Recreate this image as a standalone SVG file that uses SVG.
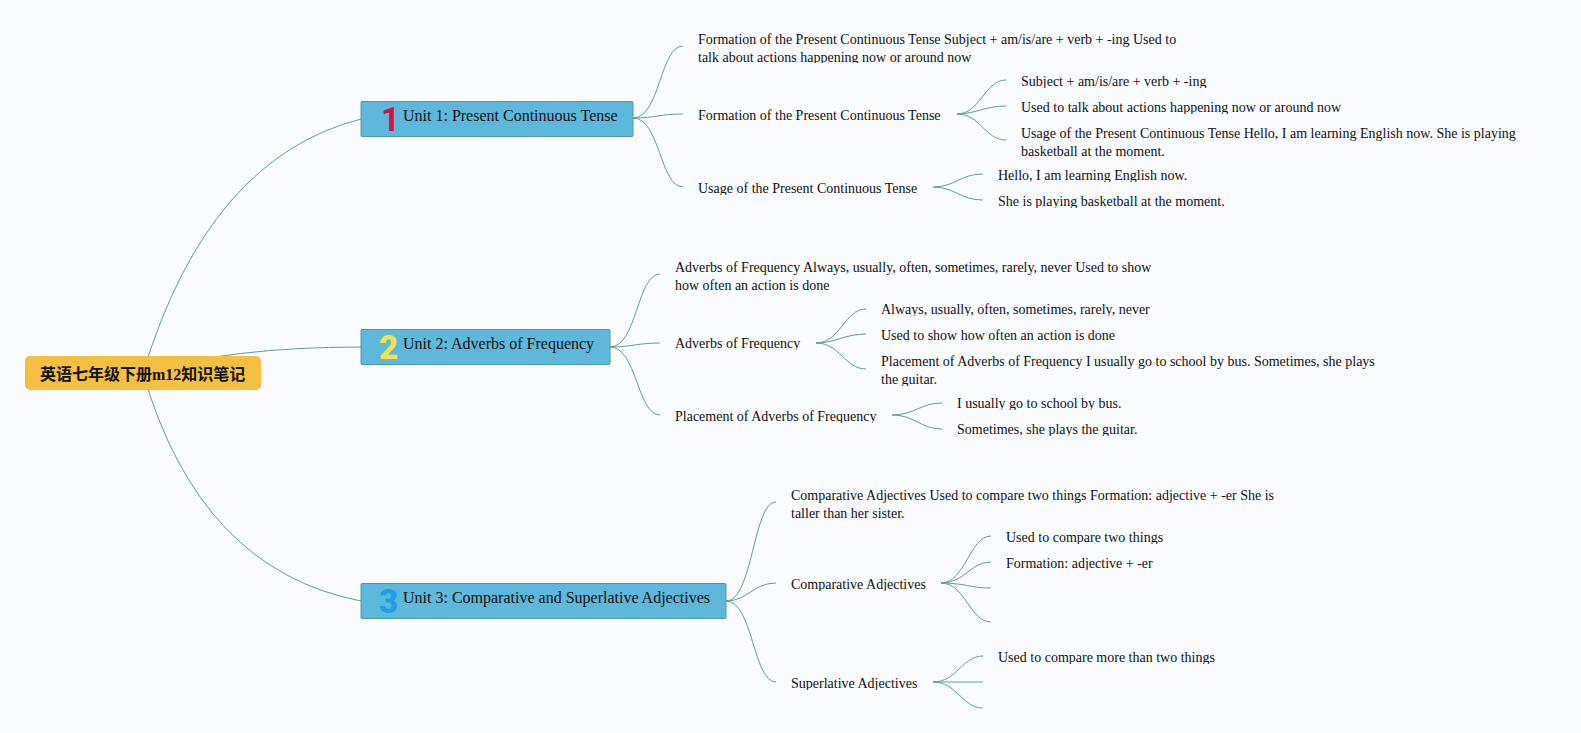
<svg xmlns="http://www.w3.org/2000/svg" width="1581" height="733" viewBox="0 0 1581 733">
<style>
.l{fill:none;stroke:#5f9e92;stroke-width:1}
.t{font:14px "Liberation Serif",serif;fill:#111}
.u{font:16px "Liberation Serif",serif;fill:#111}
.b{fill:#5db8dc;stroke:#4f9a9c;stroke-width:1}
.n{font:900 33px "Roboto","Liberation Sans",sans-serif}
</style>
<defs>
<clipPath id="c1"><rect x="690" y="28" width="500" height="35"/></clipPath>
<clipPath id="c3"><rect x="1015" y="70" width="300" height="18"/></clipPath>
<clipPath id="c4"><rect x="1015" y="96" width="400" height="18"/></clipPath>
<clipPath id="c6"><rect x="690" y="176" width="240" height="19"/></clipPath>
<clipPath id="c7"><rect x="990" y="164" width="300" height="18"/></clipPath>
<clipPath id="c8"><rect x="990" y="190" width="300" height="18"/></clipPath>
<clipPath id="c10"><rect x="670" y="332" width="140" height="18"/></clipPath>
<clipPath id="c11"><rect x="875" y="298" width="300" height="18"/></clipPath>
<clipPath id="c13"><rect x="875" y="350" width="520" height="36"/></clipPath>
<clipPath id="c14"><rect x="670" y="405" width="220" height="18"/></clipPath>
<clipPath id="c15"><rect x="950" y="392" width="300" height="18"/></clipPath>
<clipPath id="c16"><rect x="950" y="418" width="300" height="18"/></clipPath>
<clipPath id="c18"><rect x="785" y="573" width="150" height="18"/></clipPath>
<clipPath id="c19"><rect x="1000" y="526" width="300" height="18"/></clipPath>
<clipPath id="c20"><rect x="1000" y="552" width="300" height="18"/></clipPath>
<clipPath id="c21"><rect x="785" y="672" width="150" height="18"/></clipPath>
<clipPath id="c22"><rect x="990" y="646" width="300" height="18"/></clipPath>
</defs>
<rect width="1581" height="733" fill="#f9fbff"/>
<g id="connectors">
<path class="l" d="M143 373Q208 158 361 119"/>
<path class="l" d="M143 373Q229 347 361 347"/>
<path class="l" d="M143 373Q200 570 361 601"/>
<path class="l" d="M633 118C660 118 660 46 683 46M633 118C655 118 660 114 683 114M633 118C660 118 660 187 683 187"/>
<path class="l" d="M957 114C980 114 985 80 1006 80M957 114C975 114 985 106 1006 106M957 114C980 114 985 140 1006 140"/>
<path class="l" d="M933 187C955 187 960 174 983 174M933 187C955 187 960 200 983 200"/>
<path class="l" d="M610 347C637 347 637 274 660 274M610 347C632 347 637 343 660 343M610 347C637 347 637 415 660 415"/>
<path class="l" d="M816 343C840 343 845 309 866 309M816 343C835 343 845 334 866 334M816 343C840 343 845 369 866 369"/>
<path class="l" d="M892 415C915 415 920 403 942 403M892 415C915 415 920 429 942 429"/>
<path class="l" d="M726 601C753 601 753 502 776 502M726 601C748 601 753 583 776 583M726 601C753 601 753 682 776 682"/>
<path class="l" d="M941 583C965 583 970 536 991 536M941 583C965 583 970 562 991 562M941 583C965 583 970 588 991 588M941 583C965 583 970 622 991 622"/>
<path class="l" d="M933 682C957 682 962 656 983 656M933 682H983M933 682C957 682 962 708 983 708"/>
</g>
<g id="root"><rect x="25" y="356" width="236" height="34" rx="5" fill="#f5bf3f"/><text x="40" y="380" font-family="Liberation Serif,Noto Sans CJK SC,serif" font-size="16" font-weight="700" fill="#111">英语七年级下册m12知识笔记</text></g>
<g id="unit1"><rect class="b" x="361" y="101.500" width="272" height="35" rx="1"/><text class="n" x="381" y="131" fill="#d4143c" style="font-weight:700">1</text><text class="u" x="403" y="121">Unit 1: Present Continuous Tense</text></g>
<g id="unit2"><rect class="b" x="361" y="329.500" width="249" height="35" rx="1"/><text class="n" x="379" y="359" fill="#f2e050">2</text><text class="u" x="403" y="349">Unit 2: Adverbs of Frequency</text></g>
<g id="unit3"><rect class="b" x="361" y="583.500" width="365" height="35" rx="1"/><text class="n" x="379" y="613" fill="#1f9fe6">3</text><text class="u" x="403" y="603">Unit 3: Comparative and Superlative Adjectives</text></g>
<g id="n1" clip-path="url(#c1)"><text class="t" x="698" y="44">Formation of the Present Continuous Tense Subject + am/is/are + verb + -ing Used to</text><text class="t" x="698" y="62">talk about actions happening now or around now</text></g>
<g id="n2"><text class="t" x="698" y="120">Formation of the Present Continuous Tense</text></g>
<g id="n3" clip-path="url(#c3)"><text class="t" x="1021" y="86">Subject + am/is/are + verb + -ing</text></g>
<g id="n4" clip-path="url(#c4)"><text class="t" x="1021" y="112">Used to talk about actions happening now or around now</text></g>
<g id="n5"><text class="t" x="1021" y="138">Usage of the Present Continuous Tense Hello, I am learning English now. She is playing</text><text class="t" x="1021" y="156">basketball at the moment.</text></g>
<g id="n6" clip-path="url(#c6)"><text class="t" x="698" y="193">Usage of the Present Continuous Tense</text></g>
<g id="n7" clip-path="url(#c7)"><text class="t" x="998" y="180">Hello, I am learning English now.</text></g>
<g id="n8" clip-path="url(#c8)"><text class="t" x="998" y="206">She is playing basketball at the moment.</text></g>
<g id="n9"><text class="t" x="675" y="272">Adverbs of Frequency Always, usually, often, sometimes, rarely, never Used to show</text><text class="t" x="675" y="290">how often an action is done</text></g>
<g id="n10" clip-path="url(#c10)"><text class="t" x="675" y="348">Adverbs of Frequency</text></g>
<g id="n11" clip-path="url(#c11)"><text class="t" x="881" y="314">Always, usually, often, sometimes, rarely, never</text></g>
<g id="n12"><text class="t" x="881" y="340">Used to show how often an action is done</text></g>
<g id="n13" clip-path="url(#c13)"><text class="t" x="881" y="366">Placement of Adverbs of Frequency I usually go to school by bus. Sometimes, she plays</text><text class="t" x="881" y="384">the guitar.</text></g>
<g id="n14" clip-path="url(#c14)"><text class="t" x="675" y="421">Placement of Adverbs of Frequency</text></g>
<g id="n15" clip-path="url(#c15)"><text class="t" x="957" y="408">I usually go to school by bus.</text></g>
<g id="n16" clip-path="url(#c16)"><text class="t" x="957" y="434">Sometimes, she plays the guitar.</text></g>
<g id="n17"><text class="t" x="791" y="500">Comparative Adjectives Used to compare two things Formation: adjective + -er She is</text><text class="t" x="791" y="518">taller than her sister.</text></g>
<g id="n18" clip-path="url(#c18)"><text class="t" x="791" y="589">Comparative Adjectives</text></g>
<g id="n19" clip-path="url(#c19)"><text class="t" x="1006" y="542">Used to compare two things</text></g>
<g id="n20" clip-path="url(#c20)"><text class="t" x="1006" y="568">Formation: adjective + -er</text></g>
<g id="n21" clip-path="url(#c21)"><text class="t" x="791" y="688">Superlative Adjectives</text></g>
<g id="n22" clip-path="url(#c22)"><text class="t" x="998" y="662">Used to compare more than two things</text></g>
</svg>
